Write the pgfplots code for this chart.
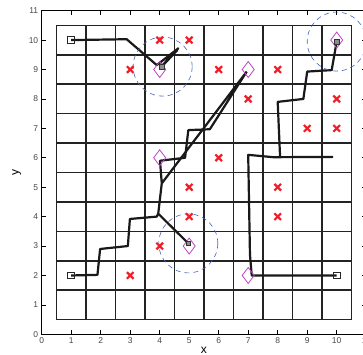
\documentclass[border=0pt]{standalone}
\usepackage{fontspec}
\setmainfont{Liberation Sans}
\usepackage{pgfplots}
\pgfplotsset{compat=1.18}
\definecolor{xred}{RGB}{240,30,40}
\definecolor{dmag}{RGB}{190,70,190}
\definecolor{cblue}{RGB}{70,100,190}
\definecolor{ticklab}{RGB}{70,70,70}
\definecolor{gridc}{RGB}{35,35,35}
\begin{document}
\begin{tikzpicture}
\begin{axis}[
  x=29.5bp, y=29.42bp,
  anchor=origin, at={(0,0)},
  xmin=0, xmax=11, ymin=0, ymax=11,
  xtick={0,...,11}, ytick={0,...,11},
  tick align=inside,
  major tick length=4bp,
  axis line style={line width=0.8bp},
  tick style={line width=0.6bp, black},
  ticklabel style={font=\fontsize{8.5}{10}\selectfont, text=ticklab},
  /pgf/number format/assume math mode=true,
  xlabel={x}, ylabel={y},
  label style={font=\fontsize{12}{14}\selectfont},
  xlabel style={at={(axis description cs:0.5,-0.0485)}, anchor=center},
  ylabel style={at={(axis description cs:-0.077,0.5)}, anchor=center},
  clip=false,
  unbounded coords=jump,
]
% grid of cells
\addplot[gridc, line width=1.6bp] coordinates {
 (0.5,0.5)(0.5,10.5)(nan,nan)
 (1.5,0.5)(1.5,10.5)(nan,nan)
 (2.5,0.5)(2.5,10.5)(nan,nan)
 (3.5,0.5)(3.5,10.5)(nan,nan)
 (4.5,0.5)(4.5,10.5)(nan,nan)
 (5.5,0.5)(5.5,10.5)(nan,nan)
 (6.5,0.5)(6.5,10.5)(nan,nan)
 (7.5,0.5)(7.5,10.5)(nan,nan)
 (8.5,0.5)(8.5,10.5)(nan,nan)
 (9.5,0.5)(9.5,10.5)(nan,nan)
 (10.5,0.5)(10.5,10.5)(nan,nan)
 (0.5,0.5)(10.5,0.5)(nan,nan)
 (0.5,1.5)(10.5,1.5)(nan,nan)
 (0.5,2.5)(10.5,2.5)(nan,nan)
 (0.5,3.5)(10.5,3.5)(nan,nan)
 (0.5,4.5)(10.5,4.5)(nan,nan)
 (0.5,5.5)(10.5,5.5)(nan,nan)
 (0.5,6.5)(10.5,6.5)(nan,nan)
 (0.5,7.5)(10.5,7.5)(nan,nan)
 (0.5,8.5)(10.5,8.5)(nan,nan)
 (0.5,9.5)(10.5,9.5)(nan,nan)
 (0.5,10.5)(10.5,10.5)
};
% sensing circles
\addplot[only marks, mark=o, mark size=29.5bp,
  mark options={draw=cblue, line width=0.6bp, dash pattern=on 5bp off 4bp}]
  coordinates {(4.1,9.1)(10,9.95)(4.97,3.09)};
% obstacles
\addplot[only marks, mark=x, mark size=4.7bp,
  mark options={draw=xred, line width=2.2bp}]
  coordinates {(4,10)(5,10)(3,9)(6,9)(8,9)(7,8)(10,8)(9,7)(10,7)(6,6)(5,5)(8,5)(5,4)(8,4)(4,3)(3,2)};
% trajectories
\addplot[black!90, line width=2.2bp, line join=round] coordinates {
 (1,10.0)(2.88,10.03)(3.9,9.15)(4.63,9.72)(4.1,9.15)(4.6,9.66)(4.07,9.1)
};
\addplot[black!90, line width=2.2bp, line join=round] coordinates {
 (1,2)(1.89,2.02)(1.98,2.9)(2.92,3.0)(2.99,3.92)(3.9,4.0)(3.95,4.1)(4.07,5.13)
 (4.01,5.9)(4.86,6.0)(4.97,6.94)(5.7,6.97)(6.95,8.93)(nan,nan)
 (4.07,5.13)(6.95,8.93)(nan,nan)
 (3.95,4.1)(4.97,3.09)
};
\addplot[black!90, line width=2.2bp, line join=round] coordinates {
 (10,2)(7.12,2)(7.06,2.7)(7.0,6.1)(7.85,6.02)(9.88,6.03)(nan,nan)
 (8.08,6.04)(8.0,7.9)(8.87,8.0)(9.0,8.93)(9.83,8.98)(10,9.95)
};
% targets
\addplot[only marks, mark=diamond, mark size=8bp,
  mark options={draw=dmag, line width=0.8bp, fill=none}]
  coordinates {(4,9)(7,9)(10,10)(4,6)(5,3)(7,2)};
% start points
\addplot[only marks, mark=square, mark size=3.3bp,
  mark options={draw=black!85, line width=0.9bp, fill=white}]
  coordinates {(1,10)(1,2)(10,2)};
% end points
\addplot[only marks, mark=square*, mark size=2.2bp,
  mark options={draw=black!80, line width=0.5bp, fill=black!45}]
  coordinates {(4.07,9.1)(4.97,3.09)(10,9.95)};
\end{axis}
\pgfresetboundingbox
\useasboundingbox (-41.7bp,-20.7bp) rectangle (321.3bp,334.3bp);
\end{tikzpicture}
\end{document}
